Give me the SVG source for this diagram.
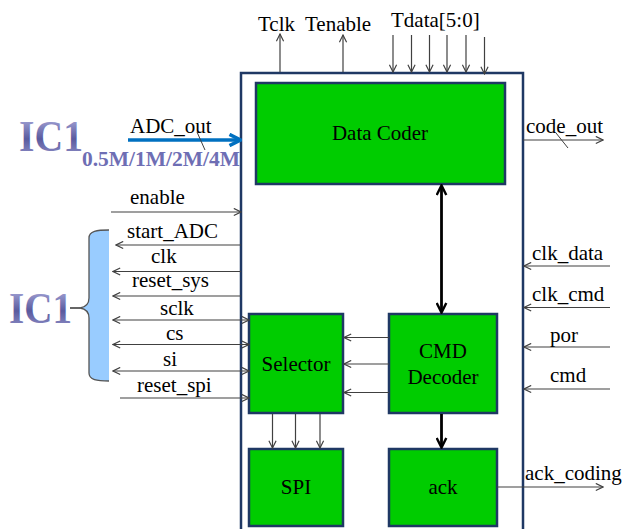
<svg xmlns="http://www.w3.org/2000/svg" width="626" height="529" viewBox="0 0 626 529">
<style>
  text { font-family: "Liberation Serif", "DejaVu Serif", serif; fill: #000; }
  .lbl { font-size: 21px; font-weight: normal; font-family: "Liberation Serif", "DejaVu Serif", serif; }
  .blk { fill: #00cc00; stroke: #1f3864; stroke-width: 2.5; }
  .sig { stroke: #404040; stroke-width: 1.2; fill: none; }
  .thick { stroke: #000; stroke-width: 2.8; fill: none; }
  .ic { font-weight: bold; font-size: 44px; fill: url(#icg); }
  .freq { font-weight: bold; font-size: 20px; fill: #6e6eb4; }
</style>
<defs>
  <linearGradient id="icg" x1="0" y1="0" x2="0" y2="1">
    <stop offset="0" stop-color="#b8b8e6"/>
    <stop offset="0.55" stop-color="#5a5a9e"/>
    <stop offset="1" stop-color="#9a9ad0"/>
  </linearGradient>
  <marker id="ah" viewBox="0 0 10 10" refX="9" refY="5" markerWidth="9" markerHeight="9" markerUnits="userSpaceOnUse" orient="auto-start-reverse">
    <path d="M1,1 L9,5 L1,9" fill="none" stroke="#404040" stroke-width="1.3"/>
  </marker>
  <marker id="ahk" viewBox="0 0 10 10" refX="8.5" refY="5" markerWidth="12" markerHeight="12" markerUnits="userSpaceOnUse" orient="auto-start-reverse">
    <path d="M1,1 L9,5 L1,9" fill="none" stroke="#000" stroke-width="2"/>
  </marker>
  <marker id="ahb" viewBox="0 0 10 10" refX="8.5" refY="5" markerWidth="14" markerHeight="14" markerUnits="userSpaceOnUse" orient="auto">
    <path d="M1,1 L9,5 L1,9" fill="none" stroke="#0070c0" stroke-width="2.5"/>
  </marker>
</defs>

<g id="outer">
  <rect x="241" y="73" width="282" height="470" fill="none" stroke="#1f3864" stroke-width="2.5"/>
</g>

<g id="datacoder">
  <rect class="blk" x="256" y="83" width="249" height="101"/>
  <text class="lbl" x="380" y="140" text-anchor="middle">Data Coder</text>
</g>
<g id="selector">
  <rect class="blk" x="249" y="314" width="94" height="99"/>
  <text class="lbl" x="296" y="371" text-anchor="middle">Selector</text>
</g>
<g id="cmddecoder">
  <rect class="blk" x="389" y="314" width="108" height="99"/>
  <text class="lbl" x="443" y="358" text-anchor="middle">CMD</text>
  <text class="lbl" x="443" y="384" text-anchor="middle">Decoder</text>
</g>
<g id="spi">
  <rect class="blk" x="249" y="449" width="94" height="77"/>
  <text class="lbl" x="296" y="494" text-anchor="middle">SPI</text>
</g>
<g id="ack">
  <rect class="blk" x="389" y="449" width="108" height="77"/>
  <text class="lbl" x="443" y="494" text-anchor="middle">ack</text>
</g>

<g id="ic1-top">
  <text class="ic" x="19" y="151" textLength="64" lengthAdjust="spacingAndGlyphs">IC1</text>
  <text class="freq" x="82" y="166" textLength="158" lengthAdjust="spacingAndGlyphs">0.5M/1M/2M/4M</text>
</g>
<g id="ic1-left">
  <text class="ic" x="9" y="323" textLength="63" lengthAdjust="spacingAndGlyphs">IC1</text>
  <path d="M109,230 C97,230 89,231 89,238 L89,298 C89,304 86,307 80,308 C86,309 89,312 89,318 L89,373 C89,380 97,381 109,381 Z" fill="#99ccff" stroke="none"/>
  <path d="M109,230 C97,230 89,231 89,238 L89,298 C89,304 86,307 80,308 C86,309 89,312 89,318 L89,373 C89,380 97,381 109,381" fill="none" stroke="#555" stroke-width="1.3"/>
  <line x1="70" y1="308" x2="80" y2="308" stroke="#333" stroke-width="1.5"/>
</g>

<g id="connectors">
  <line class="sig" x1="280" y1="72" x2="280" y2="34" marker-end="url(#ah)"/>
  <line class="sig" x1="343" y1="72" x2="343" y2="35" stroke="#888" marker-end="url(#ah)"/>
  <line class="sig" x1="393" y1="35" x2="393" y2="72" marker-end="url(#ah)"/>
  <line class="sig" x1="411.5" y1="35" x2="411.5" y2="72" marker-end="url(#ah)"/>
  <line class="sig" x1="429.5" y1="35" x2="429.5" y2="72" marker-end="url(#ah)"/>
  <line class="sig" x1="447" y1="35" x2="447" y2="72" marker-end="url(#ah)"/>
  <line class="sig" x1="466" y1="35" x2="466" y2="72" marker-end="url(#ah)"/>
  <line class="sig" x1="484.5" y1="37" x2="484.5" y2="74" marker-end="url(#ah)"/>
  <line x1="128" y1="140" x2="240" y2="140" stroke="#0070c0" stroke-width="3.5" marker-end="url(#ahb)"/>
  <line x1="197" y1="132" x2="205" y2="150" stroke="#404040" stroke-width="1"/>
  <line class="sig" x1="523" y1="140" x2="603" y2="140" marker-end="url(#ah)"/>
  <line x1="556" y1="133" x2="568" y2="148" stroke="#404040" stroke-width="1"/>
  <line class="sig" x1="111" y1="212" x2="241" y2="212" marker-end="url(#ah)"/>
  <line class="sig" x1="241" y1="245" x2="116" y2="245" marker-end="url(#ah)"/>
  <line class="sig" x1="241" y1="271.5" x2="113" y2="271.5" marker-end="url(#ah)"/>
  <line class="sig" x1="241" y1="296" x2="113" y2="296" marker-end="url(#ah)"/>
  <line class="sig" x1="113" y1="320" x2="249" y2="320" marker-start="url(#ah)" marker-end="url(#ah)"/>
  <line class="sig" x1="113" y1="344.5" x2="249" y2="344.5" marker-start="url(#ah)" marker-end="url(#ah)"/>
  <line class="sig" x1="113" y1="371" x2="249" y2="371" stroke="#000" marker-start="url(#ah)" marker-end="url(#ah)"/>
  <line class="sig" x1="120" y1="398" x2="249" y2="398" marker-end="url(#ah)"/>
  <line class="sig" x1="389" y1="337.5" x2="344" y2="337.5" stroke="#666" marker-end="url(#ah)"/>
  <line class="sig" x1="389" y1="364" x2="344" y2="364" stroke="#666" marker-end="url(#ah)"/>
  <line class="sig" x1="389" y1="392.5" x2="344" y2="392.5" marker-end="url(#ah)"/>
  <line class="sig" x1="272.5" y1="414" x2="272.5" y2="448" marker-end="url(#ah)"/>
  <line class="sig" x1="295.5" y1="414" x2="295.5" y2="448" stroke="#555" marker-end="url(#ah)"/>
  <line class="sig" x1="320" y1="414" x2="320" y2="448" stroke="#777" marker-end="url(#ah)"/>
  <line class="thick" x1="441.5" y1="186" x2="441.5" y2="312" marker-start="url(#ahk)" marker-end="url(#ahk)"/>
  <line class="thick" x1="441.5" y1="414" x2="441.5" y2="447" marker-end="url(#ahk)"/>
  <line class="sig" x1="610" y1="266" x2="524" y2="266" marker-end="url(#ah)"/>
  <line class="sig" x1="610" y1="307.5" x2="524" y2="307.5" marker-end="url(#ah)"/>
  <line class="sig" x1="610" y1="347" x2="524" y2="347" stroke="#999" marker-end="url(#ah)"/>
  <line class="sig" x1="610" y1="389" x2="524" y2="389" marker-end="url(#ah)"/>
  <line class="sig" x1="497" y1="487" x2="603" y2="487" marker-end="url(#ah)"/>
</g>

<g id="labels">
  <text class="lbl" x="258" y="31">Tclk</text>
  <text class="lbl" x="305" y="31">Tenable</text>
  <text class="lbl" x="391" y="27">Tdata[5:0]</text>
  <text class="lbl" x="130" y="133">ADC_out</text>
  <text class="lbl" x="526" y="133">code_out</text>
  <text class="lbl" x="130" y="204">enable</text>
  <text class="lbl" x="127" y="238">start_ADC</text>
  <text class="lbl" x="151" y="263">clk</text>
  <text class="lbl" x="132" y="287">reset_sys</text>
  <text class="lbl" x="160" y="315">sclk</text>
  <text class="lbl" x="166" y="340">cs</text>
  <text class="lbl" x="163" y="366">si</text>
  <text class="lbl" x="137" y="392">reset_spi</text>
  <text class="lbl" x="532" y="260">clk_data</text>
  <text class="lbl" x="532" y="301">clk_cmd</text>
  <text class="lbl" x="550" y="342">por</text>
  <text class="lbl" x="550" y="382">cmd</text>
  <text class="lbl" x="525" y="480">ack_coding</text>
</g>
</svg>
